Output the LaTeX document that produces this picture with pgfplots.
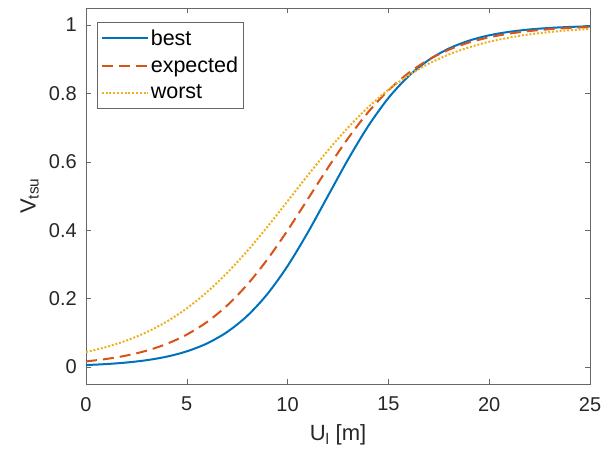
\documentclass[border=0pt]{standalone}
\usepackage{fontspec}
\setmainfont{Liberation Sans}
\usepackage{pgfplots}
\pgfplotsset{compat=1.18}
\definecolor{mblue}{rgb}{0,0.447,0.741}
\definecolor{morange}{rgb}{0.85,0.325,0.098}
\definecolor{myellow}{rgb}{0.929,0.694,0.125}
\definecolor{axgray}{rgb}{0.15,0.15,0.15}
\begin{document}
\begin{tikzpicture}
\begin{axis}[
  at={(0,0)}, anchor=south west,
  scale only axis, width=504pt, height=376pt,
  clip=false,
  xmin=0, xmax=25, ymin=-0.05, ymax=1.05,
  xtick={0,5,10,15,20,25},
  ytick={0,0.2,0.4,0.6,0.8,1},
  tick align=inside, major tick length=5pt,
  axis line style={draw=axgray!70, line width=0.6pt},
  tick style={draw=axgray!70, line width=0.6pt},
  /pgf/number format/assume math mode=true,
  tick label style={font=\fontsize{20}{22}\selectfont, text=axgray},
  xticklabel style={anchor=north, inner sep=0pt, yshift=-13pt},
  yticklabel style={anchor=east, inner sep=0pt, xshift=-9pt},
  label style={font=\fontsize{22}{25}\selectfont, text=axgray},
  xlabel={U\textsubscript{l} [m]},
  xlabel style={at={(rel axis cs:0.5,0)}, anchor=north, inner sep=0pt, yshift=-40pt},
  legend cell align=left,
  legend image code/.code={\draw[#1] (0pt,0pt) -- (46pt,0pt);},
  legend style={at={(rel axis cs:0,1)}, anchor=north west, xshift=11pt, yshift=-14pt,
    draw=axgray!70, line width=0.6pt, fill=white,
    font=\fontsize{21.5}{24}\selectfont, text=black,
    inner xsep=3.5pt, inner ysep=5.5pt, row sep=6.5pt,
    nodes={inner sep=2pt}},
]
\addplot[mblue, line width=2pt, smooth] coordinates {
(0,0.00539)(1,0.00831)(2,0.01277)(3,0.01959)(4,0.0299)(5,0.0455)(6,0.0686)(7,0.1021)(8,0.1494)(9,0.2134)(10,0.2953)(11,0.393)(12,0.5)(13,0.607)(14,0.7047)(15,0.7866)(16,0.8506)(17,0.8979)(18,0.9314)(19,0.9545)(20,0.9701)(21,0.9804)(22,0.9872)(23,0.9917)(24,0.99461)(25,0.9965)};
\addlegendentry{best}
\addplot[morange, line width=2pt, smooth, dash pattern=on 11pt off 6pt] coordinates {
(0,0.0161)(1,0.0232)(2,0.0332)(3,0.0474)(4,0.0672)(5,0.0946)(6,0.1314)(7,0.1796)(8,0.2408)(9,0.3148)(10,0.3995)(11,0.4907)(12,0.5825)(13,0.669)(14,0.7454)(15,0.8091)(16,0.8599)(17,0.8989)(18,0.928)(19,0.9491)(20,0.9643)(21,0.9751)(22,0.9827)(23,0.988)(24,0.99166)(25,0.99422)};
\addlegendentry{expected}
\addplot[myellow, line width=2pt, smooth, dash pattern=on 2pt off 1.8pt] coordinates {
(0,0.0435)(1,0.058)(2,0.0769)(3,0.1014)(4,0.1325)(5,0.1714)(6,0.2188)(7,0.2749)(8,0.3392)(9,0.41)(10,0.4849)(11,0.5603)(12,0.6331)(13,0.7003)(14,0.7598)(15,0.8107)(16,0.8529)(17,0.887)(18,0.914)(19,0.935)(20,0.9512)(21,0.9635)(22,0.9728)(23,0.9797)(24,0.985)(25,0.9888)};
\addlegendentry{worst}
\node[font=\fontsize{22}{25}\selectfont, text=axgray, inner sep=0pt, anchor=south, rotate=90]
  at ([xshift=-47pt]rel axis cs:0,0.5) {V\textsubscript{tsu}};
\end{axis}
\pgfresetboundingbox
\path[use as bounding box] (-86pt,-74pt) rectangle (516pt,384pt);
\end{tikzpicture}
\end{document}
